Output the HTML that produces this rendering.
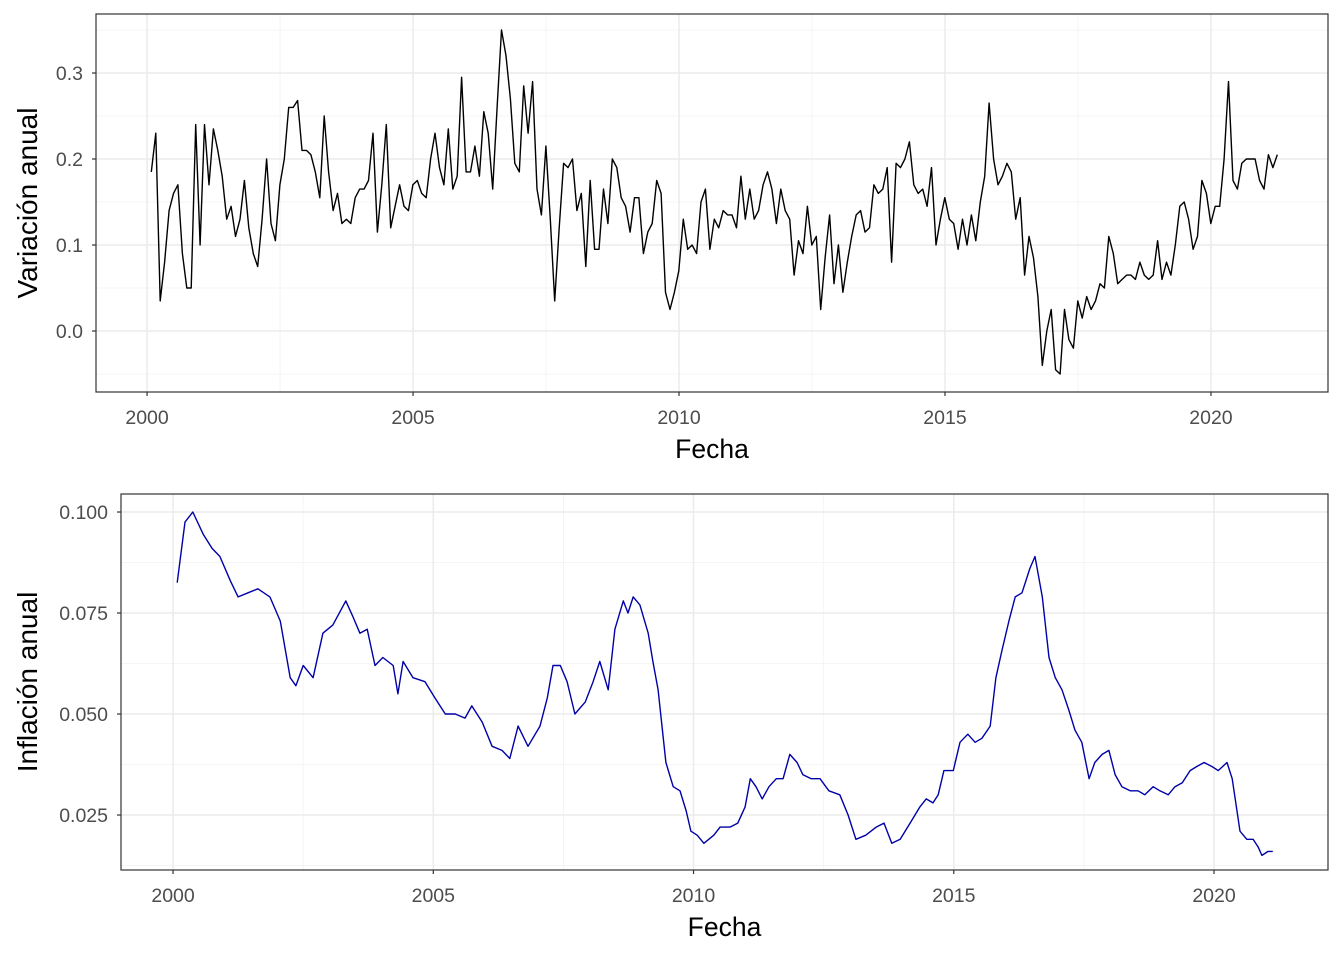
<!DOCTYPE html>
<html><head><meta charset="utf-8"><style>
html,body{margin:0;padding:0;background:#fff;}
svg{display:block;font-family:"Liberation Sans",Arial,sans-serif;}
</style></head><body>
<svg id="chart" width="1344" height="960" viewBox="0 0 1344 960"></svg>
<script>
// Top panel data: monthly annual variation, starting 2000-02
const topStart = 2000.08;
const topValues = [0.185,0.23,0.035,0.08,0.14,0.16,0.17,0.09,0.05,0.05,0.24,0.10,0.24,0.17,0.235,0.21,0.18,0.13,0.145,0.11,0.13,0.175,0.12,0.09,0.075,0.13,0.20,0.125,0.105,0.17,0.20,0.26,0.26,0.268,0.21,0.21,0.205,0.185,0.155,0.25,0.185,0.14,0.16,0.125,0.13,0.125,0.155,0.165,0.165,0.175,0.23,0.115,0.17,0.24,0.12,0.145,0.17,0.145,0.14,0.17,0.175,0.16,0.155,0.20,0.23,0.19,0.17,0.235,0.165,0.18,0.295,0.185,0.185,0.215,0.18,0.255,0.23,0.165,0.26,0.35,0.32,0.27,0.195,0.185,0.285,0.23,0.29,0.165,0.135,0.215,0.13,0.035,0.12,0.195,0.19,0.2,0.14,0.16,0.075,0.175,0.095,0.095,0.165,0.125,0.2,0.19,0.155,0.145,0.115,0.155,0.155,0.09,0.115,0.125,0.175,0.16,0.045,0.025,0.045,0.07,0.13,0.095,0.10,0.09,0.15,0.165,0.095,0.13,0.12,0.14,0.135,0.135,0.12,0.18,0.13,0.165,0.13,0.14,0.17,0.185,0.165,0.125,0.165,0.14,0.13,0.065,0.105,0.09,0.145,0.10,0.11,0.025,0.085,0.135,0.055,0.10,0.045,0.08,0.11,0.135,0.14,0.115,0.12,0.17,0.16,0.165,0.19,0.08,0.195,0.19,0.20,0.22,0.17,0.16,0.165,0.145,0.19,0.10,0.13,0.155,0.13,0.125,0.095,0.13,0.10,0.135,0.105,0.15,0.18,0.265,0.20,0.17,0.18,0.195,0.185,0.13,0.155,0.065,0.11,0.085,0.04,-0.04,0.0,0.025,-0.045,-0.05,0.025,-0.01,-0.02,0.035,0.015,0.04,0.025,0.035,0.055,0.05,0.11,0.09,0.055,0.06,0.065,0.065,0.06,0.08,0.065,0.06,0.065,0.105,0.06,0.08,0.065,0.10,0.145,0.15,0.13,0.095,0.11,0.175,0.16,0.125,0.145,0.145,0.2,0.29,0.175,0.165,0.195,0.2,0.2,0.2,0.175,0.165,0.205,0.19,0.205];
const topYTicks = [0.0,0.1,0.2,0.3];
const topYLabels = ["0.0","0.1","0.2","0.3"];
// Bottom panel data
const botYears = [0.08,0.23,0.38,0.58,0.75,0.90,1.10,1.25,1.44,1.63,1.86,2.06,2.25,2.36,2.50,2.69,2.88,3.07,3.32,3.46,3.59,3.73,3.88,4.03,4.23,4.32,4.42,4.61,4.84,5.03,5.23,5.42,5.61,5.74,5.94,6.13,6.32,6.47,6.63,6.82,7.05,7.19,7.30,7.44,7.57,7.72,7.92,8.07,8.20,8.36,8.49,8.65,8.74,8.84,8.97,9.13,9.22,9.32,9.47,9.61,9.74,9.86,9.95,10.07,10.20,10.39,10.51,10.70,10.85,10.99,11.09,11.20,11.32,11.45,11.59,11.72,11.85,11.99,12.10,12.26,12.43,12.60,12.81,12.97,13.12,13.31,13.51,13.66,13.81,13.97,14.16,14.35,14.47,14.60,14.70,14.81,14.99,15.12,15.27,15.41,15.54,15.70,15.81,15.93,16.06,16.18,16.31,16.46,16.56,16.70,16.83,16.95,17.08,17.21,17.33,17.46,17.60,17.71,17.85,17.98,18.10,18.23,18.39,18.54,18.67,18.83,18.96,19.12,19.25,19.39,19.54,19.67,19.81,19.96,20.08,20.25,20.35,20.50,20.63,20.75,20.85,20.92,21.04,21.13];
const botValues = [0.0825,0.0975,0.100,0.0945,0.091,0.089,0.083,0.079,0.080,0.081,0.079,0.073,0.059,0.057,0.062,0.059,0.070,0.072,0.078,0.074,0.070,0.071,0.062,0.064,0.062,0.055,0.063,0.059,0.058,0.054,0.050,0.050,0.049,0.052,0.048,0.042,0.041,0.039,0.047,0.042,0.047,0.054,0.062,0.062,0.058,0.050,0.053,0.058,0.063,0.056,0.071,0.078,0.075,0.079,0.077,0.070,0.063,0.056,0.038,0.032,0.031,0.026,0.021,0.020,0.018,0.020,0.022,0.022,0.023,0.027,0.034,0.032,0.029,0.032,0.034,0.034,0.040,0.038,0.035,0.034,0.034,0.031,0.030,0.025,0.019,0.020,0.022,0.023,0.018,0.019,0.023,0.027,0.029,0.028,0.030,0.036,0.036,0.043,0.045,0.043,0.044,0.047,0.059,0.066,0.073,0.079,0.080,0.086,0.089,0.079,0.064,0.059,0.056,0.051,0.046,0.043,0.034,0.038,0.040,0.041,0.035,0.032,0.031,0.031,0.030,0.032,0.031,0.030,0.032,0.033,0.036,0.037,0.038,0.037,0.036,0.038,0.034,0.021,0.019,0.019,0.017,0.015,0.016,0.016];
const botYTicks = [0.025,0.050,0.075,0.100];
const botYLabels = ["0.025","0.050","0.075","0.100"];
const xTicks = [2000,2005,2010,2015,2020];
const xLabels = ["2000","2005","2010","2015","2020"];

const NS="http://www.w3.org/2000/svg";
const svg=document.getElementById('chart');
function mk(tag,attrs,parent){const e=document.createElementNS(NS,tag);for(const k in attrs)e.setAttribute(k,attrs[k]);(parent||svg).appendChild(e);return e;}

function panel(cfg){
  const {x0,x1,y0,y1,xmin,xmax,ymin,ymax,yticks,ylabels,ytitle,xs,ys,color,name,minorStep}=cfg;
  const g=mk('g',{});
  
  
  const X=v=>x0+(v-xmin)/(xmax-xmin)*(x1-x0);
  const Y=v=>y1-(v-ymin)/(ymax-ymin)*(y1-y0);
  for(let i=0;i<yticks.length+1;i++){
    const v=yticks[0]-minorStep/2+i*minorStep;
    if(v>ymin&&v<ymax){const l=mk('line',{x1:x0,x2:x1,y1:Y(v),y2:Y(v),stroke:'#f2f2f2','stroke-width':0.8},g);}
  }
  for(let i=0;i<xTicks.length;i++){
    const v=xTicks[i]+2.5;
    if(v<xmax){const l=mk('line',{x1:X(v),x2:X(v),y1:y0,y2:y1,stroke:'#f2f2f2','stroke-width':0.8},g);}
  }
  yticks.forEach((v,i)=>{
    const l=mk('line',{x1:x0,x2:x1,y1:Y(v),y2:Y(v),stroke:'#ebebeb','stroke-width':1.5},g);
    
    
    const t=mk('line',{x1:x0-4,x2:x0,y1:Y(v),y2:Y(v),stroke:'#333','stroke-width':1.2},g);
    
    
    const tx=mk('text',{x:x0-13,y:Y(v)+7,'text-anchor':'end','font-size':19.5,fill:'#4d4d4d'},g);
    tx.textContent=ylabels[i];
    
    
  });
  xTicks.forEach((v,i)=>{
    const l=mk('line',{x1:X(v),x2:X(v),y1:y0,y2:y1,stroke:'#ebebeb','stroke-width':1.5},g);
    
    
    const t=mk('line',{x1:X(v),x2:X(v),y1:y1,y2:y1+4,stroke:'#333','stroke-width':1.2},g);
    
    
    const tx=mk('text',{x:X(v),y:y1+32,'text-anchor':'middle','font-size':19.5,fill:'#4d4d4d'},g);
    tx.textContent=xLabels[i];
    
    
  });
  const pts=xs.map((x,i)=>X(x).toFixed(1)+','+Y(ys[i]).toFixed(1)).join(' ');
  const pl=mk('polyline',{points:pts,fill:'none',stroke:color,'stroke-width':1.4,'stroke-linejoin':'round'},g);
  
  
  const b=mk('rect',{x:x0,y:y0,width:x1-x0,height:y1-y0,fill:'none',stroke:'#333','stroke-width':1.2},g);
  
  
  const xt=mk('text',{x:(x0+x1)/2,y:y1+66,'text-anchor':'middle','font-size':26.5,fill:'#000'},g);
  xt.textContent='Fecha';
  
  
  const cy=(y0+y1)/2;
  const yt=mk('text',{x:37,y:cy,'text-anchor':'middle','font-size':28,fill:'#000',transform:'rotate(-90 37 '+cy+')'},g);
  yt.textContent=ytitle;
  
  
}

panel({x0:96,x1:1328,y0:14,y1:392,xmin:1999.04,xmax:2022.2,ymin:-0.0709,ymax:0.3686,
  yticks:topYTicks,ylabels:topYLabels,ytitle:'Variación anual',
  xs:topValues.map((v,i)=>topStart+i/12),ys:topValues,color:'#000',name:'variacion',minorStep:0.1});
panel({x0:121,x1:1328,y0:494,y1:870,xmin:1999.0,xmax:2022.19,ymin:0.01139,ymax:0.10446,
  yticks:botYTicks,ylabels:botYLabels,ytitle:'Inflación anual',
  xs:botYears.map(v=>2000+v),ys:botValues,color:'#0000a8',name:'inflacion',minorStep:0.025});
</script>
</body></html>
